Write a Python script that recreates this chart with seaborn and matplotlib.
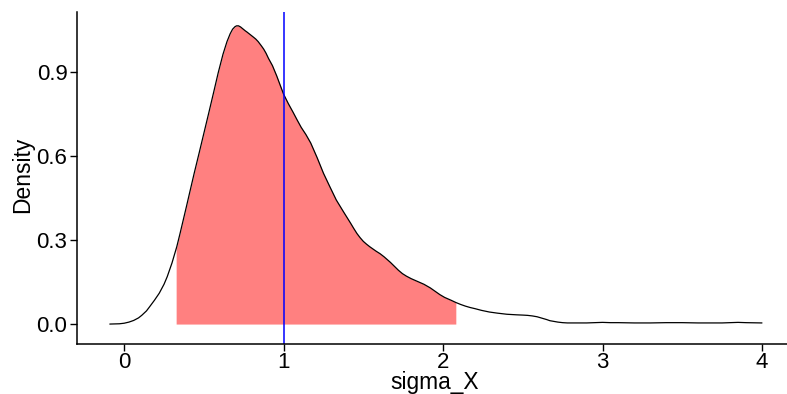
import numpy as np
import pandas as pd
import matplotlib
matplotlib.use("Agg")
import matplotlib.pyplot as plt
import seaborn as sns

# density curve of sigma_X
sigma_x = [
    -0.09, -0.03, 0.0, 0.03, 0.06, 0.09, 0.11, 0.14, 0.16, 0.19,
    0.22, 0.25, 0.27, 0.30, 0.33, 0.35, 0.37, 0.39, 0.41, 0.44,
    0.47, 0.50, 0.53, 0.56, 0.59, 0.62, 0.645, 0.665, 0.68, 0.695,
    0.705, 0.717, 0.73, 0.745, 0.76, 0.77, 0.79, 0.81, 0.825, 0.84,
    0.86, 0.875, 0.89, 0.905, 0.93, 0.957, 0.98, 1.0, 1.03, 1.06,
    1.085, 1.11, 1.14, 1.17, 1.21, 1.25, 1.29, 1.33, 1.375, 1.42,
    1.44, 1.46, 1.48, 1.50, 1.52, 1.54, 1.56, 1.58, 1.605, 1.63,
    1.65, 1.67, 1.695, 1.72, 1.745, 1.77, 1.80, 1.84, 1.88, 1.92,
    1.95, 1.98, 2.01, 2.05, 2.08, 2.11, 2.14, 2.17, 2.20, 2.24,
    2.29, 2.34, 2.40, 2.46, 2.50, 2.53, 2.56, 2.59, 2.62, 2.65,
    2.67, 2.70, 2.72, 2.75, 2.78, 2.84, 2.9, 2.95, 3.0, 3.05,
    3.1, 3.2, 3.3, 3.4, 3.5, 3.6, 3.7, 3.75, 3.8, 3.85,
    3.9, 4.0,
]
density = [
    0.0, 0.001, 0.003, 0.007, 0.013, 0.022, 0.031, 0.047, 0.062, 0.085,
    0.11, 0.142, 0.169, 0.218, 0.276, 0.322, 0.37, 0.418, 0.467, 0.54,
    0.61, 0.681, 0.752, 0.824, 0.897, 0.963, 1.008, 1.036, 1.052, 1.061,
    1.064, 1.064, 1.06, 1.053, 1.046, 1.042, 1.033, 1.024, 1.017, 1.008,
    0.993, 0.981, 0.966, 0.948, 0.922, 0.885, 0.85, 0.82, 0.786, 0.755,
    0.728, 0.702, 0.676, 0.646, 0.594, 0.538, 0.49, 0.443, 0.401, 0.36,
    0.341, 0.323, 0.308, 0.295, 0.285, 0.276, 0.268, 0.26, 0.251, 0.24,
    0.23, 0.22, 0.206, 0.192, 0.18, 0.171, 0.162, 0.152, 0.142, 0.129,
    0.117, 0.105, 0.095, 0.085, 0.077, 0.07, 0.064, 0.059, 0.055, 0.049,
    0.043, 0.039, 0.035, 0.033, 0.032, 0.031, 0.029, 0.026, 0.021, 0.016,
    0.012, 0.009, 0.007, 0.005, 0.004, 0.004, 0.004, 0.005, 0.006, 0.005,
    0.005, 0.004, 0.004, 0.005, 0.005, 0.004, 0.004, 0.004, 0.005, 0.006,
    0.005, 0.004,
]

# shaded interval and reference value
LOWER, UPPER = 0.326, 2.08
REF_VALUE = 1.0

df = pd.DataFrame({"sigma_X": sigma_x, "Density": density})

sns.set_theme(style="ticks")
plt.rcParams["font.family"] = ["Liberation Sans", "DejaVu Sans"]

fig = plt.figure(figsize=(7.87, 3.94), dpi=100)
ax = fig.add_axes([0.098, 0.127, 0.902, 0.843])

# shaded region under the curve between LOWER and UPPER
xs = np.array(sigma_x)
ys = np.array(density)
inside = (xs > LOWER) & (xs < UPPER)
fx = np.concatenate([[LOWER], xs[inside], [UPPER]])
fy = np.concatenate([[np.interp(LOWER, xs, ys)], ys[inside], [np.interp(UPPER, xs, ys)]])
ax.fill_between(fx, 0, fy, color="#FF8080", linewidth=0)

sns.lineplot(data=df, x="sigma_X", y="Density", color="black", linewidth=0.9, ax=ax)
ax.axvline(REF_VALUE, color="blue", linewidth=1.1)

ax.set_xlim(-0.295, 4.157)
ax.set_ylim(-0.071, 1.114)
ax.set_xticks([0, 1, 2, 3, 4])
ax.set_yticks([0.0, 0.3, 0.6, 0.9])
ax.set_yticklabels(["0.0", "0.3", "0.6", "0.9"])
ax.tick_params(labelsize=16, length=5, width=1, colors="black")
ax.tick_params(axis="x", pad=0.5)
ax.tick_params(axis="y", pad=2)
ax.set_xlabel("sigma_X", fontsize=16.4, va="top", color="black")
ax.set_ylabel("Density", fontsize=16.4, va="center", color="black")
ax.xaxis.set_label_coords(0.503, -0.082)
ax.yaxis.set_label_coords(-0.077, 0.509)
sns.despine(ax=ax)
for s in ["left", "bottom"]:
    ax.spines[s].set_linewidth(1.1)
    ax.spines[s].set_color("black")

fig.savefig("out.png", dpi=100)
